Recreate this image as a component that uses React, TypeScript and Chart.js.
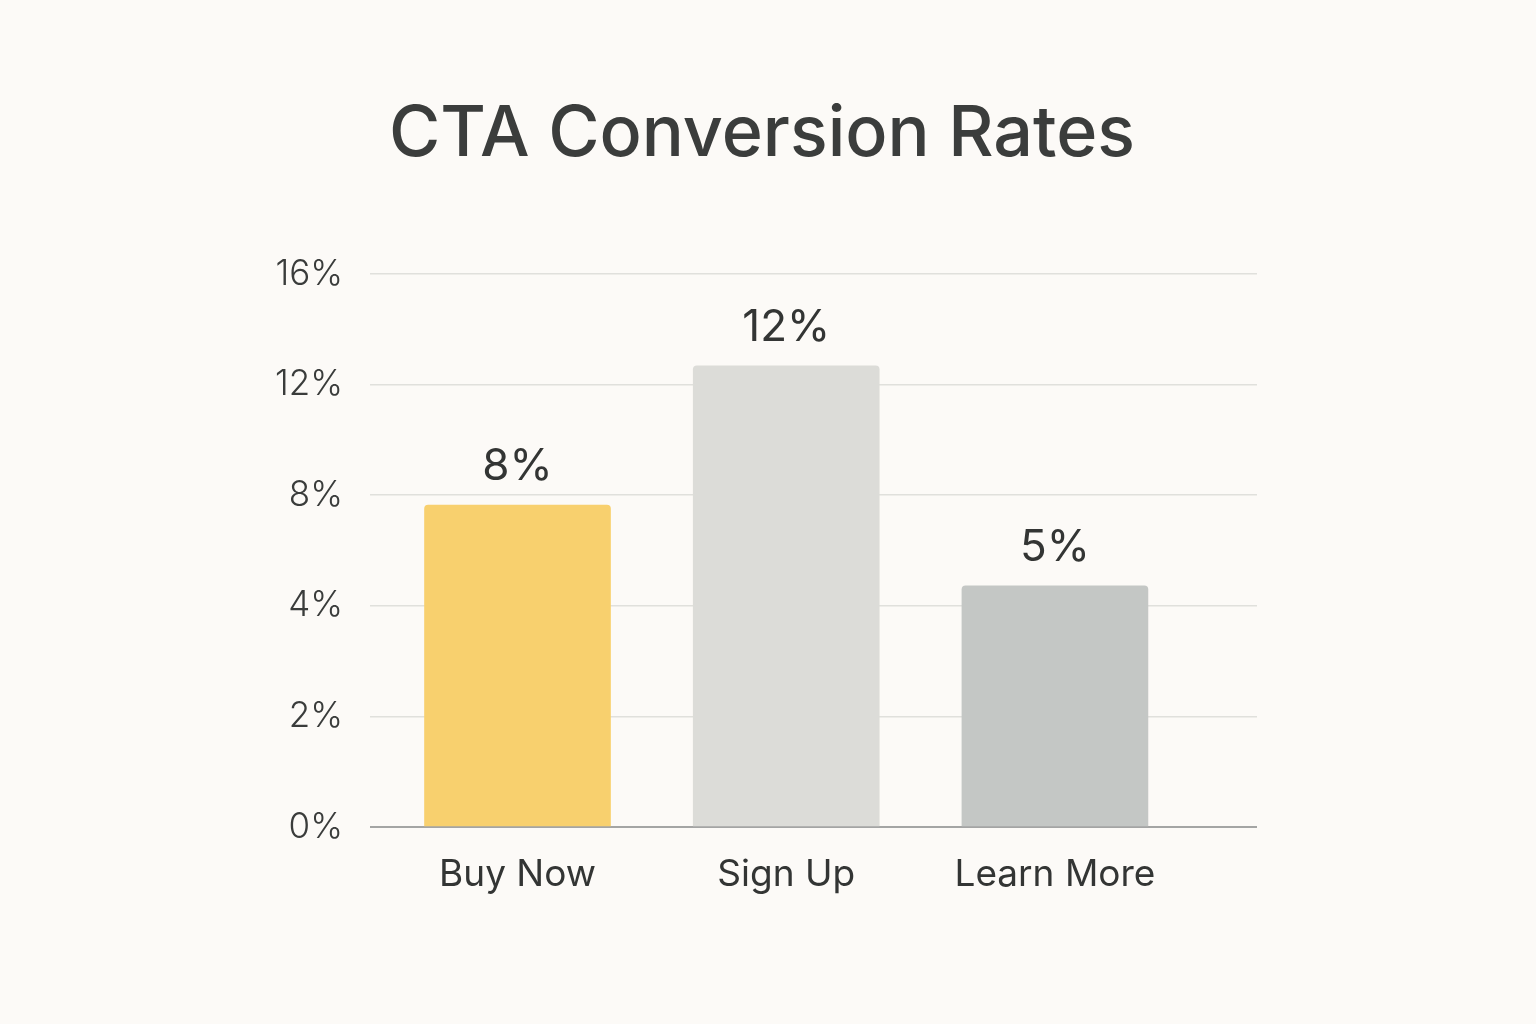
import React, { useEffect, useRef } from "react";
import { Chart, registerables } from "chart.js";

Chart.register(...registerables);

const categories = ["Buy Now", "Sign Up", "Learn More"];
// bar heights in axis steps (the y axis uses evenly spaced, non-linear labels)
const barLevels = [2.91, 4.17, 2.18];
const valueLabels = ["8%", "12%", "5%"];
const yTickLabels = ["0%", "2%", "4%", "8%", "12%", "16%"];
const barColors = ["#f8d06e", "#dcdcd8", "#c4c7c5"];

const FONT = "Inter, 'Noto Sans', sans-serif";

const valueLabelPlugin = {
  id: "valueLabels",
  afterDatasetsDraw(chart: any) {
    const meta = chart.getDatasetMeta(0);
    const ctx = chart.ctx;
    ctx.save();
    ctx.font = `400 44px ${FONT}`;
    ctx.fillStyle = "#333534";
    ctx.textAlign = "center";
    ctx.textBaseline = "middle";
    meta.data.forEach((bar: any, i: number) => {
      ctx.fillText(valueLabels[i], bar.x, bar.y - 38);
    });
    ctx.restore();
  },
};

const bgPlugin = {
  id: "bg",
  beforeDraw(chart: any) {
    const ctx = chart.ctx;
    ctx.save();
    ctx.fillStyle = "#fcfaf7";
    ctx.fillRect(0, 0, chart.width, chart.height);
    ctx.restore();
  },
};

export default function App() {
  const ref = useRef<HTMLCanvasElement | null>(null);
  useEffect(() => {
    document.body.style.margin = "0";
    document.body.style.background = "#fcfaf7";
    if (!ref.current) return;
    const chart = new Chart(ref.current, {
      type: "bar",
      data: {
        datasets: [
          {
            data: barLevels.map((v, i) => ({ x: i, y: v })),
            backgroundColor: barColors,
            borderRadius: 4,
            borderSkipped: "start",
            barThickness: 186,
          },
        ],
      },
      options: {
        responsive: false,
        animation: false,
        layout: { padding: { left: 0, right: 12, top: 0, bottom: 0 } },
        plugins: {
          legend: { display: false },
          tooltip: { enabled: false },
          title: {
            display: true,
            text: "CTA Conversion Rates",
            color: "#3b3d3c",
            font: { family: FONT, size: 70, weight: "500", lineHeight: 1.2 },
            padding: { top: 93, bottom: 97 },
          },
        },
        scales: {
          x: {
            type: "linear",
            offset: false,
            min: -0.549,
            max: 2.752,
            grid: { display: false, drawTicks: false, offset: false },
            border: { display: false },
            afterBuildTicks: (scale: any) => {
              scale.ticks = categories.map((_, i) => ({ value: i }));
            },
            afterFit: (scale: any) => {
              scale.height = 197;
            },
            ticks: {
              padding: 26,
              color: "#333534",
              font: { family: FONT, size: 37, weight: "400" },
              callback: (v: any) => categories[Math.round(Number(v))] ?? "",
            },
          },
          y: {
            type: "linear",
            min: 0,
            max: 5,
            border: { display: false },
            afterFit: (scale: any) => {
              scale.width = 370;
            },
            grid: {
              drawTicks: false,
              color: (c: any) => (c.tick && c.tick.value === 0 ? "#a4a5a4" : "#e0e0dc"),
              lineWidth: (c: any) => (c.tick && c.tick.value === 0 ? 2 : 1.5),
            },
            ticks: {
              stepSize: 1,
              padding: 27,
              color: "#3a3c3b",
              font: { family: FONT, size: 35, weight: "300" },
              callback: (v: any) => yTickLabels[Math.round(Number(v))] ?? "",
            },
          },
          yRight: {
            type: "linear",
            position: "right",
            min: 0,
            max: 5,
            grid: { display: false, drawTicks: false },
            border: { display: false },
            ticks: { display: false },
            afterFit: (scale: any) => {
              scale.width = 267;
            },
          },
        },
      },
      plugins: [bgPlugin, valueLabelPlugin],
    });
    return () => chart.destroy();
  }, []);
  return (
    <div style={{ width: 1536, height: 1024, background: "#fcfaf7" }}>
      <canvas ref={ref} width={1536} height={1024} style={{ display: "block" }} />
    </div>
  );
}
